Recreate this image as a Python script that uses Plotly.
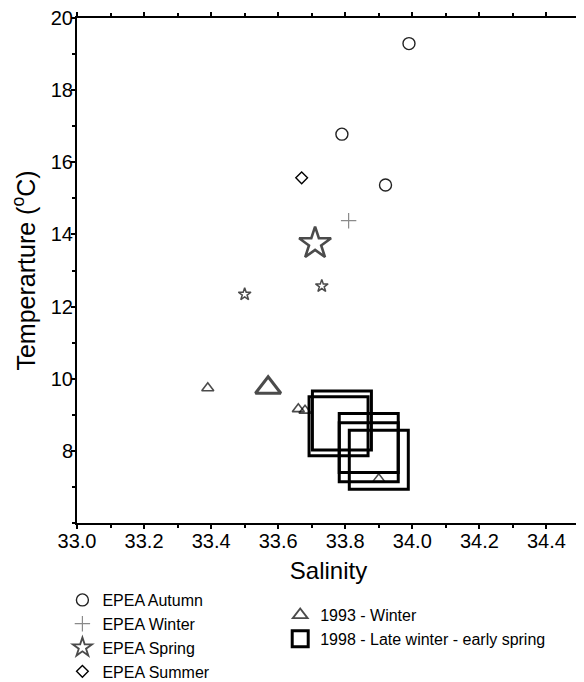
import plotly.graph_objects as go

# ---------------- data ----------------
autumn_sal = [33.99, 33.79, 33.92]
autumn_temp = [19.29, 16.78, 15.37]

winter_sal = [33.81]
winter_temp = [14.38]

spring_sal = [33.71, 33.73, 33.50]
spring_temp = [13.75, 12.57, 12.34]

summer_sal = [33.67]
summer_temp = [15.57]

w1993_sal = [33.39, 33.57, 33.66, 33.68, 33.90]
w1993_temp = [9.74, 9.75, 9.16, 9.12, 7.22]

s1998_sal = [33.79, 33.78, 33.87, 33.87, 33.90]
s1998_temp = [8.84, 8.68, 8.22, 7.96, 7.75]

x_tickvals = [33.0, 33.2, 33.4, 33.6, 33.8, 34.0, 34.2, 34.4]
x_ticklabels = ["33.0", "33.2", "33.4", "33.6", "33.8", "34.0", "34.2", "34.4"]
y_tickvals = [8, 10, 12, 14, 16, 18, 20]
y_ticklabels = ["8", "10", "12", "14", "16", "18", "20"]

# ---------------- styles ----------------
FONT = "Liberation Sans, Arial, sans-serif"
spring_sizes = [24, 9.5, 9.5]
spring_lw = [2.6, 1.5, 1.5]
tri_sizes = [10.5, 22, 10.5, 10.5, 10.5]
tri_lw = [1.6, 3, 1.6, 1.6, 1.6]

# the page body has an 8px default margin, so the figure is sized to fit the window
PAGE_OFFSET = 8
W, H = 584 - PAGE_OFFSET, 682 - PAGE_OFFSET

fig = go.Figure()

fig.add_trace(go.Scatter(
    x=autumn_sal, y=autumn_temp, mode="markers", name="EPEA Autumn",
    marker=dict(symbol="circle", size=12, color="rgba(255,255,255,0)",
                line=dict(width=1.4, color="#222222")),
    legend="legend"))
fig.add_trace(go.Scatter(
    x=winter_sal, y=winter_temp, mode="markers", name="EPEA Winter",
    marker=dict(symbol="cross-thin-open", size=11, color="#8a8a8a",
                line=dict(width=1.2, color="#8a8a8a")),
    legend="legend"))
fig.add_trace(go.Scatter(
    x=spring_sal, y=spring_temp, mode="markers", name="EPEA Spring",
    marker=dict(symbol="star", size=spring_sizes, color="rgba(255,255,255,0)",
                line=dict(width=spring_lw, color="#000000")),
    legend="legend"))
fig.add_trace(go.Scatter(
    x=summer_sal, y=summer_temp, mode="markers", name="EPEA Summer",
    marker=dict(symbol="diamond", size=9, color="rgba(255,255,255,0)",
                line=dict(width=1.4, color="#000000")),
    legend="legend"))
fig.add_trace(go.Scatter(
    x=w1993_sal, y=w1993_temp, mode="markers", name="1993 - Winter",
    marker=dict(symbol="triangle-up", size=tri_sizes, color="rgba(255,255,255,0)",
                line=dict(width=tri_lw, color="#000000")),
    legend="legend2"))
fig.add_trace(go.Scatter(
    x=s1998_sal, y=s1998_temp, mode="markers", name="1998 - Late winter - early spring",
    marker=dict(symbol="square", size=59, color="rgba(255,255,255,0)",
                line=dict(width=3, color="#000000")),
    legend="legend2"))

axis_common = dict(showgrid=False, zeroline=False, linecolor="black", linewidth=2,
                   tickcolor="black", tickwidth=1.5, automargin=False,
                   ticklabeloverflow="allow",
                   tickfont=dict(family=FONT, size=20, color="black"))

fig.update_layout(
    width=W, height=H,
    margin=dict(l=69, r=4, t=10, b=159, autoexpand=False),
    plot_bgcolor="white", paper_bgcolor="white",
    font=dict(family=FONT, color="black"),
    xaxis=dict(range=[33.0, 34.5], tickvals=x_tickvals, ticktext=x_ticklabels,
               ticks="outside", ticklen=4, mirror="ticks", ticklabelstandoff=-5,
               minor=dict(dtick=0.1, tick0=33.0, ticks="outside", ticklen=3,
                          tickcolor="black", tickwidth=1.5),
               title=dict(text="Salinity", font=dict(family=FONT, size=24), standoff=11),
               **axis_common),
    yaxis=dict(range=[6, 20], tickvals=y_tickvals, ticktext=y_ticklabels,
               ticks="outside", ticklen=4, mirror="ticks", ticklabelstandoff=-6,
               minor=dict(dtick=1, tick0=6, ticks="outside", ticklen=3,
                          tickcolor="black", tickwidth=1.5),
               title=dict(text="Temperarture (<sup>o</sup>C)",
                          font=dict(family=FONT, size=25), standoff=15),
               **axis_common),
    legend=dict(x=-0.029, y=(523 - 583) / 505, xanchor="left", yanchor="top",
                bgcolor="rgba(0,0,0,0)", font=dict(family=FONT, size=16, color="black"),
                tracegroupgap=0),
    legend2=dict(x=0.404, y=(523 - 598) / 505, xanchor="left", yanchor="top",
                 bgcolor="rgba(0,0,0,0)", font=dict(family=FONT, size=16, color="black"),
                 tracegroupgap=0),
)

fig.write_html("out.html")
